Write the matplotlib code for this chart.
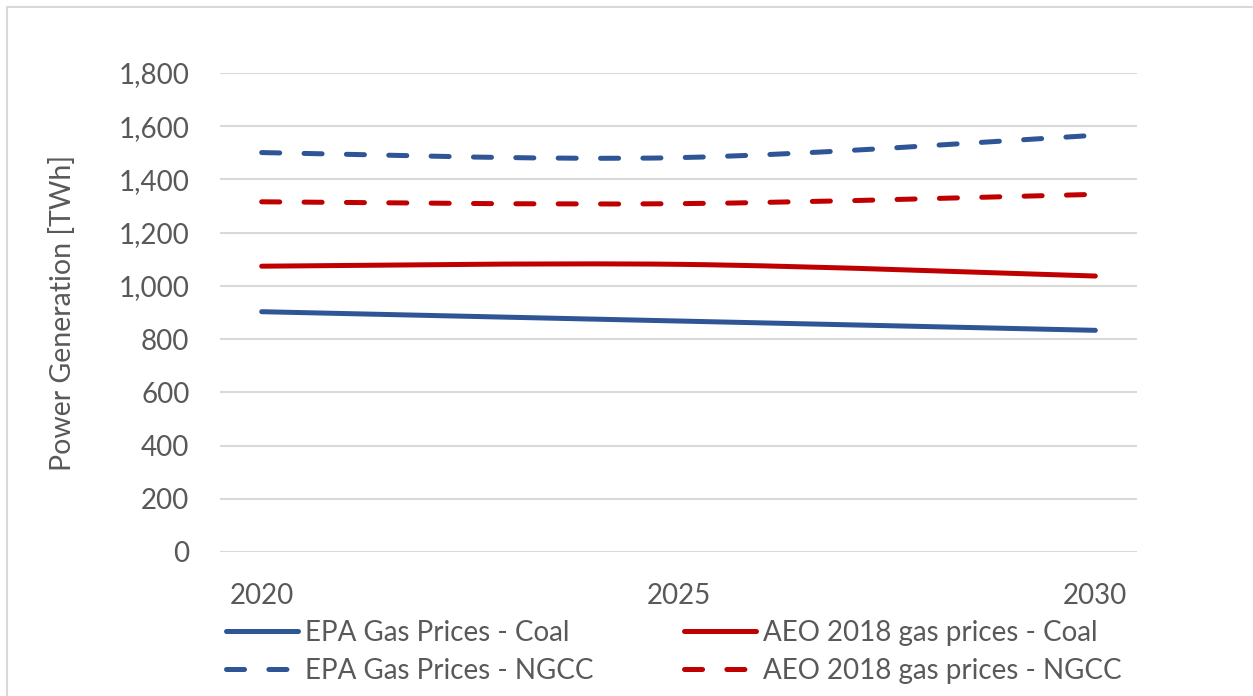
import matplotlib
matplotlib.use("Agg")
import matplotlib.pyplot as plt
from matplotlib.path import Path
from matplotlib.patches import PathPatch, Rectangle
from matplotlib.lines import Line2D
from matplotlib.ticker import FuncFormatter

# ---- data ----
years = ["2020", "2025", "2030"]
epa_coal = [903, 868, 833]
aeo_coal = [1074, 1081, 1037]
epa_ngcc = [1501, 1482, 1566]
aeo_ngcc = [1316, 1309, 1344]
series_labels = ["EPA Gas Prices - Coal", "AEO 2018 gas prices - Coal",
                 "EPA Gas Prices - NGCC", "AEO 2018 gas prices - NGCC"]
y_ticks = [0, 200, 400, 600, 800, 1000, 1200, 1400, 1600, 1800]
y_label = "Power Generation [TWh]"

BLUE = "#2F5597"
RED = "#C00000"
TXT = "#595959"
GRID = "#D9D9D9"

plt.rcParams["font.family"] = ["Lato", "DejaVu Sans"]
plt.rcParams["lines.scale_dashes"] = False

W, H = 1253, 696
fig = plt.figure(figsize=(W / 100, H / 100), dpi=100)
fig.patch.set_facecolor("white")

# chart-area border
fig.add_artist(Rectangle((7 / W, -0.05), 1.2, 1 - 7 / H + 0.05, transform=fig.transFigure,
                         fill=False, edgecolor=GRID, linewidth=1.5))

ax = fig.add_axes([220 / W, 1 - 552 / H, (1137 - 220) / W, (552 - 73) / H])
ax.set_xlim(-0.1, 2.1)
ax.set_ylim(0, 1800)
for s in ax.spines.values():
    s.set_visible(False)
ax.set_yticks(y_ticks)
ax.yaxis.set_major_formatter(FuncFormatter(lambda v, p: f"{int(v):,}"))
ax.set_xticks(range(len(years)))
ax.set_xticklabels(years)
ax.tick_params(axis="both", length=0, labelsize=20, labelcolor=TXT)
ax.tick_params(axis="y", pad=22)
ax.tick_params(axis="x", pad=22)
ax.grid(axis="y", color=GRID, linewidth=1.5)
ax.set_axisbelow(True)
ax.set_ylabel(y_label, fontsize=20.5, color=TXT, labelpad=31)

DASH = (0, (13, 17.5))
LW = 3.6


def smooth_path(xs, ys):
    # Excel-style smoothed line: Catmull-Rom Bezier segments through the data points
    pts = list(zip(xs, ys))
    n = len(pts)
    verts = [pts[0]]
    codes = [Path.MOVETO]
    for i in range(n - 1):
        p0 = pts[i - 1] if i > 0 else pts[i]
        p1 = pts[i]
        p2 = pts[i + 1]
        p3 = pts[i + 2] if i + 2 < n else pts[i + 1]
        c1 = (p1[0] + (p2[0] - p0[0]) / 6, p1[1] + (p2[1] - p0[1]) / 6)
        c2 = (p2[0] - (p3[0] - p1[0]) / 6, p2[1] - (p3[1] - p1[1]) / 6)
        verts += [c1, c2, p2]
        codes += [Path.CURVE4] * 3
    return Path(verts, codes)


xs = list(range(len(years)))
for vals, color, ls in [(epa_ngcc, BLUE, DASH), (aeo_ngcc, RED, DASH),
                        (aeo_coal, RED, "-"), (epa_coal, BLUE, "-")]:
    patch = PathPatch(smooth_path(xs, vals), fill=False, edgecolor=color, linewidth=LW,
                      linestyle=ls, capstyle="round", joinstyle="round")
    ax.add_patch(patch)

handles = [
    Line2D([], [], color=BLUE, lw=LW, solid_capstyle="round"),
    Line2D([], [], color=RED, lw=LW, solid_capstyle="round"),
    Line2D([], [], color=BLUE, lw=LW, linestyle=DASH, dash_capstyle="round"),
    Line2D([], [], color=RED, lw=LW, linestyle=DASH, dash_capstyle="round"),
]

common = dict(loc="upper left", frameon=False, fontsize=20, handlelength=2.6,
              handletextpad=0.25, labelspacing=0.42, borderpad=0, borderaxespad=0,
              labelcolor=TXT)
fig.legend([handles[0], handles[2]], [series_labels[0], series_labels[2]],
           bbox_to_anchor=(226 / W, 1 - 620 / H), **common)
fig.legend([handles[1], handles[3]], [series_labels[1], series_labels[3]],
           bbox_to_anchor=(684 / W, 1 - 620 / H), **common)

fig.savefig("out.png", dpi=100)
